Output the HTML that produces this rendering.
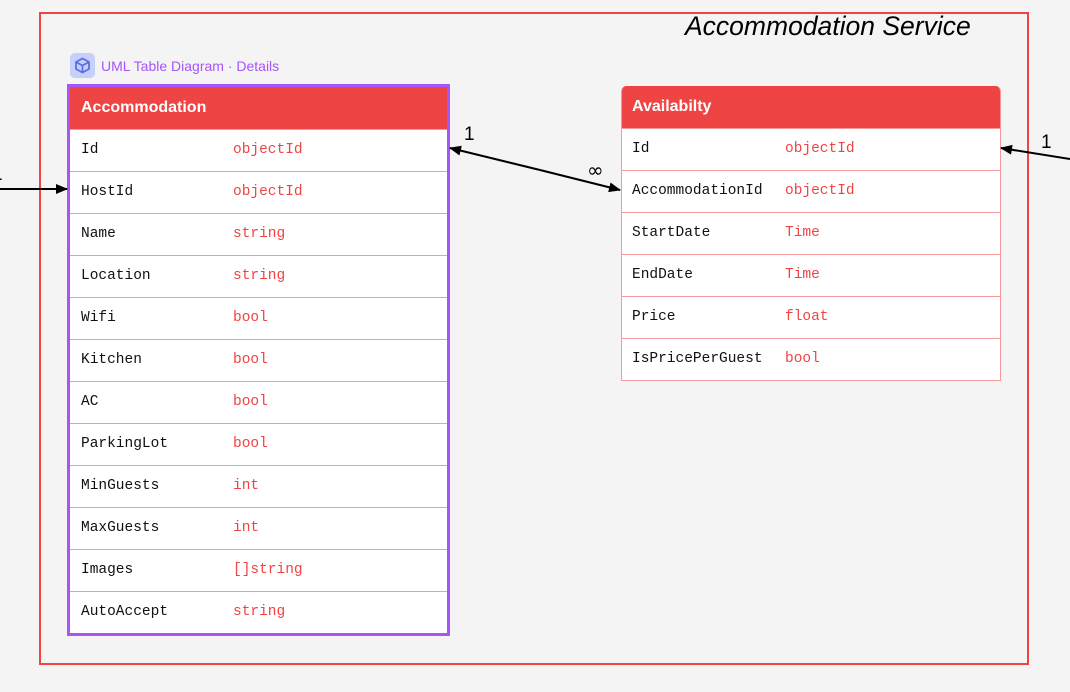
<!DOCTYPE html>
<html><head><style>
body{margin:0;width:1070px;height:692px;background:#f4f4f4;position:relative;overflow:hidden;font-family:"Liberation Sans",sans-serif}
.box{position:absolute;left:39px;top:12px;width:986px;height:649px;border:2px solid #ef4444}
.title{position:absolute;left:685px;top:11px;font-size:26.5px;font-style:italic;color:#000}
.tbl{position:absolute;background:#fff}
.hd{height:42px;background:#ef4444;color:#fff;font-weight:bold;font-size:16px;line-height:42px;padding-left:11px;box-sizing:border-box}
.row{height:42px;border-top:1.5px solid #f39b9b;box-sizing:border-box;position:relative;font-family:"Liberation Mono",monospace;font-size:14.5px;line-height:41px}
.row .n{position:absolute;left:11px;color:#111}
.row .t{position:absolute;color:#ef4444}
</style></head><body>
<div class="box"></div>
<div class="title">Accommodation Service</div>
<div style="position:absolute;left:70px;top:53px;width:25px;height:25px;background:#c7d0fb;border-radius:5px"></div>
<svg style="position:absolute;left:74px;top:57px" width="17" height="17" viewBox="0 0 17 17"><path d="M8.5 1.5L15 5v7l-6.5 3.5L2 12V5z M2 5l6.5 3.5L15 5 M8.5 8.5v7" fill="none" stroke="#5b6ee8" stroke-width="1.8"/></svg>
<div style="position:absolute;left:101px;top:58px;font-size:14px;color:#a855f7">UML Table Diagram · Details</div>

<div class="tbl" style="left:67px;top:84px;width:377px;border:3px solid #a855f7">
<div class="hd">Accommodation</div>
<div class="row"><span class="n">Id</span><span class="t" style="left:163px">objectId</span></div>
<div class="row"><span class="n">HostId</span><span class="t" style="left:163px">objectId</span></div>
<div class="row"><span class="n">Name</span><span class="t" style="left:163px">string</span></div>
<div class="row"><span class="n">Location</span><span class="t" style="left:163px">string</span></div>
<div class="row"><span class="n">Wifi</span><span class="t" style="left:163px">bool</span></div>
<div class="row"><span class="n">Kitchen</span><span class="t" style="left:163px">bool</span></div>
<div class="row"><span class="n">AC</span><span class="t" style="left:163px">bool</span></div>
<div class="row"><span class="n">ParkingLot</span><span class="t" style="left:163px">bool</span></div>
<div class="row"><span class="n">MinGuests</span><span class="t" style="left:163px">int</span></div>
<div class="row"><span class="n">MaxGuests</span><span class="t" style="left:163px">int</span></div>
<div class="row"><span class="n">Images</span><span class="t" style="left:163px">[]string</span></div>
<div class="row"><span class="n">AutoAccept</span><span class="t" style="left:163px">string</span></div>
</div>

<div class="tbl" style="left:621px;top:86px;width:378px;border-radius:5px 5px 0 0;overflow:hidden;border:1px solid #f39b9b;border-top:none">
<div class="hd" style="padding-left:10px">Availabilty</div>
<div class="row"><span class="n" style="left:10px">Id</span><span class="t" style="left:163px">objectId</span></div>
<div class="row"><span class="n" style="left:10px">AccommodationId</span><span class="t" style="left:163px">objectId</span></div>
<div class="row"><span class="n" style="left:10px">StartDate</span><span class="t" style="left:163px">Time</span></div>
<div class="row"><span class="n" style="left:10px">EndDate</span><span class="t" style="left:163px">Time</span></div>
<div class="row"><span class="n" style="left:10px">Price</span><span class="t" style="left:163px">float</span></div>
<div class="row"><span class="n" style="left:10px">IsPricePerGuest</span><span class="t" style="left:163px">bool</span></div>
</div>

<svg style="position:absolute;left:0;top:0" width="1070" height="692">
<defs><marker id="a" markerWidth="12" markerHeight="10" refX="11" refY="5" orient="auto" markerUnits="userSpaceOnUse"><path d="M0 0L12 5L0 10z" fill="#000"/></marker></defs>
<line x1="0" y1="189" x2="67" y2="189" stroke="#000" stroke-width="2" marker-end="url(#a)"/>
<line x1="540" y1="170" x2="450" y2="148" stroke="#000" stroke-width="2" marker-end="url(#a)"/>
<line x1="540" y1="170" x2="620" y2="190" stroke="#000" stroke-width="2" marker-end="url(#a)"/>
<line x1="1070" y1="159" x2="1001" y2="148" stroke="#000" stroke-width="2" marker-end="url(#a)"/>
<text x="464" y="140" font-size="19" font-family="Liberation Sans">1</text>
<text x="587" y="177" font-size="20" font-family="DejaVu Sans">∞</text>
<text x="1041" y="148" font-size="19" font-family="Liberation Sans">1</text>
<text x="-8" y="180" font-size="19" font-family="Liberation Sans">1</text>
</svg>
</body></html>
